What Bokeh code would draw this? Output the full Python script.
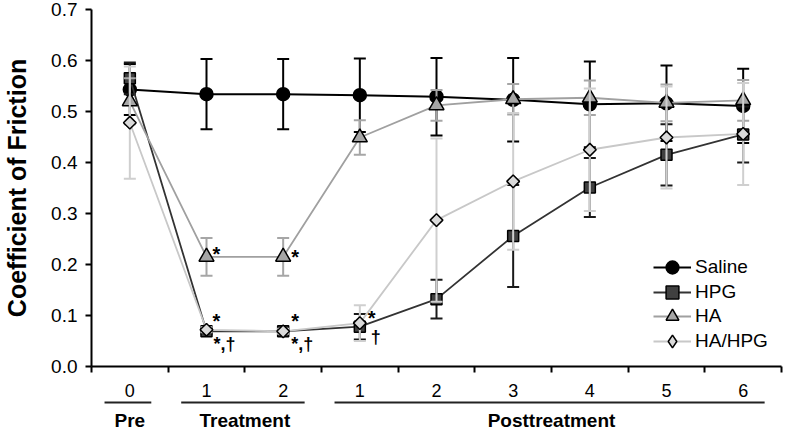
import numpy as np
from bokeh.plotting import figure
from bokeh.layouts import column
from bokeh.models import (Range1d, FixedTicker, PrintfTickFormatter, ColumnDataSource,
                          Legend, LegendItem)
from bokeh.core.properties import value
from bokeh.embed import file_html
from bokeh.resources import INLINE

# ---------------- data ----------------
categories = ["0", "1", "2", "1", "2", "3", "4", "5", "6"]
groups = ["Pre", "Treatment", "Posttreatment"]
group_sizes = [1, 2, 6]

series_names = ["Saline", "HPG", "HA", "HA/HPG"]
saline = [0.543, 0.534, 0.534, 0.532, 0.529, 0.523, 0.514, 0.516, 0.511]
saline_err = [0.050, 0.069, 0.069, 0.072, 0.076, 0.082, 0.084, 0.074, 0.073]
hpg = [0.565, 0.069, 0.069, 0.078, 0.132, 0.256, 0.351, 0.415, 0.455]
hpg_err = [0.031, 0.005, 0.005, 0.025, 0.038, 0.100, 0.058, 0.060, 0.055]
ha = [0.520, 0.215, 0.215, 0.449, 0.512, 0.524, 0.527, 0.517, 0.522]
ha_err = [0.045, 0.037, 0.037, 0.034, 0.030, 0.030, 0.034, 0.036, 0.040]
hahpg = [0.478, 0.072, 0.069, 0.085, 0.287, 0.363, 0.425, 0.449, 0.456]
hahpg_err = [0.110, 0.005, 0.005, 0.035, 0.160, 0.134, 0.120, 0.100, 0.100]

y_ticks = [0.0, 0.1, 0.2, 0.3, 0.4, 0.5, 0.6, 0.7]

# significance marks: (series, category index, text)
marks = [("HA", 1, "*"), ("HA", 2, "*"),
         ("HPG", 1, "*"), ("HPG", 2, "*"),
         ("HPG", 1, "*,\u2020"), ("HPG", 2, "*,\u2020"),
         ("HA/HPG", 3, "*"), ("HA/HPG", 3, "\u2020")]

# ---------------- styles ----------------
FONT = "Liberation Sans"
mark_dx = [6, 8, 6, 8, 7, 8, 8, 11]
mark_dy = [-3, 0, -10, -10, 13, 13, -5, 14]
mark_size = ["20px", "20px", "20px", "20px", "18px", "18px", "20px", "18px"]

styles = {
    "Saline": dict(marker="circle", size=13, angle=0.0, fill="black", line="black", lw=2, err="black"),
    "HPG": dict(marker="square", size=11, angle=0.0, fill="#404040", line="#333333", lw=1.8, err="#1a1a1a"),
    "HA": dict(marker="triangle", size=15, angle=0.0, fill="#a6a6a6", line="#a0a0a0", lw=1.8, err="#a6a6a6"),
    "HA/HPG": dict(marker="square", size=9, angle=np.pi / 4, fill="#dadada", line="#c8c8c8", lw=1.8, err="#cfcfcf"),
}
legend_marker = {"Saline": "circle", "HPG": "square", "HA": "triangle", "HA/HPG": "diamond"}
legend_rows_y = [83, 58, 34, 9]

values = {"Saline": (saline, saline_err), "HPG": (hpg, hpg_err),
          "HA": (ha, ha_err), "HA/HPG": (hahpg, hahpg_err)}

n = len(categories)
xs = np.arange(n) + 0.5

p = figure(width=784, height=378, output_backend="svg", toolbar_location=None,
           x_range=Range1d(0, n), y_range=Range1d(0, 0.7),
           min_border_left=86, min_border_right=3, min_border_top=9, min_border_bottom=12)
p.outline_line_color = None
p.xgrid.visible = False
p.ygrid.visible = False

legend_renderers = {}
for name in series_names:
    vals, errs = values[name]
    vals = np.array(vals)
    errs = np.array(errs)
    st = styles[name]
    src = ColumnDataSource(dict(x=xs, y=vals, lo=vals - errs, hi=vals + errs))
    p.segment(x0="x", y0="lo", x1="x", y1="hi", source=src, line_color=st["err"], line_width=2)
    p.scatter(x="x", y="lo", marker="dash", size=12, line_color=st["err"], line_width=2, source=src)
    p.scatter(x="x", y="hi", marker="dash", size=12, line_color=st["err"], line_width=2, source=src)
    r_line = p.line(x="x", y="y", source=src, line_color=st["line"], line_width=st["lw"])
    if st["angle"] != 0.0:
        # legend glyph (drawn underneath the rotated markers, fully covered by them)
        r_leg = p.scatter(x="x", y="y", source=src, marker=legend_marker[name], size=11,
                          fill_color=st["fill"], line_color="black", line_width=1.5)
    r_pt = p.scatter(x="x", y="y", source=src, marker=st["marker"], size=st["size"], angle=st["angle"],
                     fill_color=st["fill"], line_color="black", line_width=1.5)
    if st["angle"] == 0.0:
        r_leg = r_pt
    legend_renderers[name] = [r_line, r_leg]

# significance marks
mx = [xs[i] for (_, i, _) in marks]
my = [values[s][0][i] for (s, i, _) in marks]
mt = [t for (_, _, t) in marks]
msrc = ColumnDataSource(dict(x=mx, y=my, t=mt, dx=mark_dx, dy=mark_dy, fs=mark_size))
p.text(x="x", y="y", text="t", source=msrc, x_offset="dx", y_offset="dy",
       text_font=value(FONT), text_font_size="fs", text_font_style="bold",
       text_align="left", text_baseline="middle", text_color="black")

# axes
p.yaxis.ticker = FixedTicker(ticks=y_ticks)
p.yaxis.formatter = PrintfTickFormatter(format="%.1f")
p.yaxis.axis_label = "Coefficient of Friction"
p.yaxis.axis_label_text_font = FONT
p.yaxis.axis_label_text_font_size = "25px"
p.yaxis.axis_label_text_font_style = "bold"
p.yaxis.axis_label_text_color = "black"
p.yaxis.axis_label_standoff = 17
p.yaxis.major_label_text_font = FONT
p.yaxis.major_label_text_font_size = "19px"
p.yaxis.major_label_text_color = "black"
p.yaxis.major_label_standoff = 8
p.yaxis.minor_tick_line_color = None

p.xaxis.ticker = FixedTicker(ticks=list(range(n + 1)))
p.xaxis.major_label_overrides = {i: "" for i in range(n + 1)}
p.xaxis.major_label_text_font_size = "1px"
p.xaxis.major_label_standoff = 0
p.xaxis.minor_tick_line_color = None

for ax in (p.xaxis, p.yaxis):
    ax.axis_line_width = 2
    ax.axis_line_color = "black"
    ax.major_tick_line_width = 2
    ax.major_tick_line_color = "black"
    ax.major_tick_out = 6
    ax.major_tick_in = 0

# legend: one single-row legend per series so the glyphs can be large
for name, ly in zip(series_names, legend_rows_y):
    lg = Legend(items=[LegendItem(label=name, renderers=legend_renderers[name])],
                location=(562, ly), padding=0, margin=0, spacing=0,
                glyph_width=38, glyph_height=32, label_height=20, label_standoff=4,
                label_text_font=FONT, label_text_font_size="19px", label_text_color="black",
                border_line_color=None, background_fill_alpha=0)
    p.add_layout(lg, "center")

# ---------------- category / group labels below ----------------
H2 = 54
p2 = figure(width=784, height=H2, output_backend="svg", toolbar_location=None,
            x_range=p.x_range, y_range=Range1d(H2, 0),
            x_axis_location=None, y_axis_location=None,
            min_border_left=86, min_border_right=3, min_border_top=0, min_border_bottom=0)
p2.outline_line_color = None
p2.xgrid.visible = False
p2.ygrid.visible = False

p2.text(x=list(xs), y=[12] * n, text=categories, text_font=value(FONT), text_font_size="18px",
        text_align="center", text_baseline="middle", text_color="black")

starts = np.cumsum([0] + group_sizes[:-1])
ends = starts + np.array(group_sizes)
p2.segment(x0=list(starts + 0.17), x1=list(ends - 0.22), y0=[24] * len(groups), y1=[24] * len(groups),
           line_color="#222222", line_width=2)
p2.text(x=list((starts + ends) / 2.0), y=[42] * len(groups), text=groups, text_font=value(FONT),
        text_font_size="19px", text_font_style="bold", text_align="center",
        text_baseline="middle", text_color="black")

layout = column(p, p2, spacing=0)
open("out.html", "w").write(file_html(layout, INLINE))
